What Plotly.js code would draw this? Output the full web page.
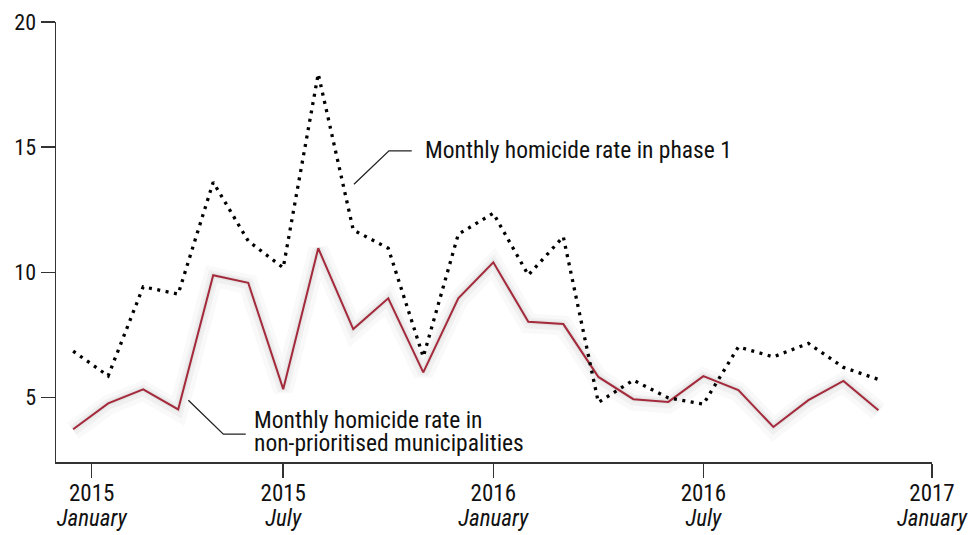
<!DOCTYPE html>
<html>
<head>
<meta charset="utf-8">
<script src="https://cdn.plot.ly/plotly-3.0.1.min.js"></script>
<style>
html,body{margin:0;padding:0;background:#fff;}
#chart{width:977px;height:535px;}
</style>
</head>
<body>
<div id="chart"></div>
<script>
// Month index 0 = first observation (Dec 2014) ... 23
const months = [0,1,2,3,4,5,6,7,8,9,10,11,12,13,14,15,16,17,18,19,20,21,22,23];
const phase1 = [6.85,5.86,9.42,9.13,13.6,11.25,10.18,17.93,11.69,10.96,6.62,11.52,12.36,9.89,11.42,4.8,5.69,4.98,4.73,7.02,6.62,7.16,6.2,5.72];
const nonPrioritised = [3.73,4.76,5.32,4.52,9.88,9.58,5.33,10.96,7.73,8.96,6.0,8.96,10.4,8.02,7.93,5.82,4.93,4.82,5.85,5.29,3.82,4.89,5.66,4.49];
const tickPositions = [0.53,6,12,18,24.53];
const tickYears = ["2015","2015","2016","2016","2017"];
const tickMonths = ["January","July","January","July","January"];
const yTicks = [5,10,15,20];
const labelPhase1 = "Monthly homicide rate in phase 1";
const labelNonPrio = ["Monthly homicide rate in", "non-prioritised municipalities"];

const FONT = "'Roboto Condensed','Liberation Sans Narrow','DejaVu Sans Condensed',sans-serif";
const RED = "#a3293b";

const traces = [
  {x: months, y: nonPrioritised.map(v=>v-0.06), mode:"lines", line:{color:"rgba(0,0,0,0.025)", width:20}, hoverinfo:"skip", showlegend:false},
  {x: months, y: nonPrioritised.map(v=>v-0.04), mode:"lines", line:{color:"rgba(0,0,0,0.035)", width:11}, hoverinfo:"skip", showlegend:false},
  {x: months, y: nonPrioritised, mode:"lines", line:{color:"rgba(0,0,0,0.04)", width:5}, hoverinfo:"skip", showlegend:false},
  {x: months, y: nonPrioritised, mode:"lines", line:{color:RED, width:2}, name:"Monthly homicide rate in non-prioritised municipalities"},
  {x: months, y: phase1, mode:"lines", line:{color:"#000", width:3.3, dash:"3px,5.5px"}, name:"Monthly homicide rate in phase 1"}
];

const S = "font-size:23px";
const A = "font-size:23.5px";
const layout = {
  width:977, height:535,
  margin:{l:56, r:45, t:22, b:73},
  paper_bgcolor:"#fff", plot_bgcolor:"#fff",
  showlegend:false,
  font:{family:FONT, size:22, color:"#111"},
  xaxis:{
    range:[-0.49,24.53], showgrid:false, zeroline:false,
    showline:true, linecolor:"#333", linewidth:1.5,
    ticks:"outside", ticklen:14, tickwidth:1.5, tickcolor:"#333",
    tickmode:"array", tickvals:tickPositions,
    ticktext:tickYears.map((y,i)=>"<span style='"+S+"'>"+y+"</span><br><i><span style='"+S+"'>"+tickMonths[i]+"</span></i>"),
    tickfont:{family:FONT, size:19.5, color:"#111"}
  },
  yaxis:{
    range:[2.42,20], showgrid:false, zeroline:false,
    showline:true, linecolor:"#333", linewidth:1.5,
    ticks:"outside", ticklen:14, tickwidth:1.5, tickcolor:"#333",
    tickmode:"array", tickvals:yTicks,
    tickfont:{family:FONT, size:22, color:"#111"}
  },
  shapes:[
    {type:"path", xref:"x", yref:"y", path:"M 8.02 13.52 L 9.02 14.85 L 9.67 14.85", line:{color:"#222", width:1.3}},
    {type:"path", xref:"x", yref:"y", path:"M 3.29 4.89 L 4.29 3.53 L 4.93 3.53", line:{color:"#222", width:1.3}}
  ],
  annotations:[
    {x:10.0, y:14.89, xref:"x", yref:"y", text:labelPhase1, showarrow:false, xanchor:"left", yanchor:"middle", font:{family:FONT, size:23.5, color:"#111"}},
    {x:5.11, y:3.63, xref:"x", yref:"y", align:"left",
     text:labelNonPrio.map(t=>"<span style='"+A+"'>"+t+"</span>").join("<br>"),
     showarrow:false, xanchor:"left", yanchor:"middle", font:{family:FONT, size:17.7, color:"#111"}}
  ]
};

Plotly.newPlot("chart", traces, layout, {staticPlot:true, displayModeBar:false});
</script>
</body>
</html>
